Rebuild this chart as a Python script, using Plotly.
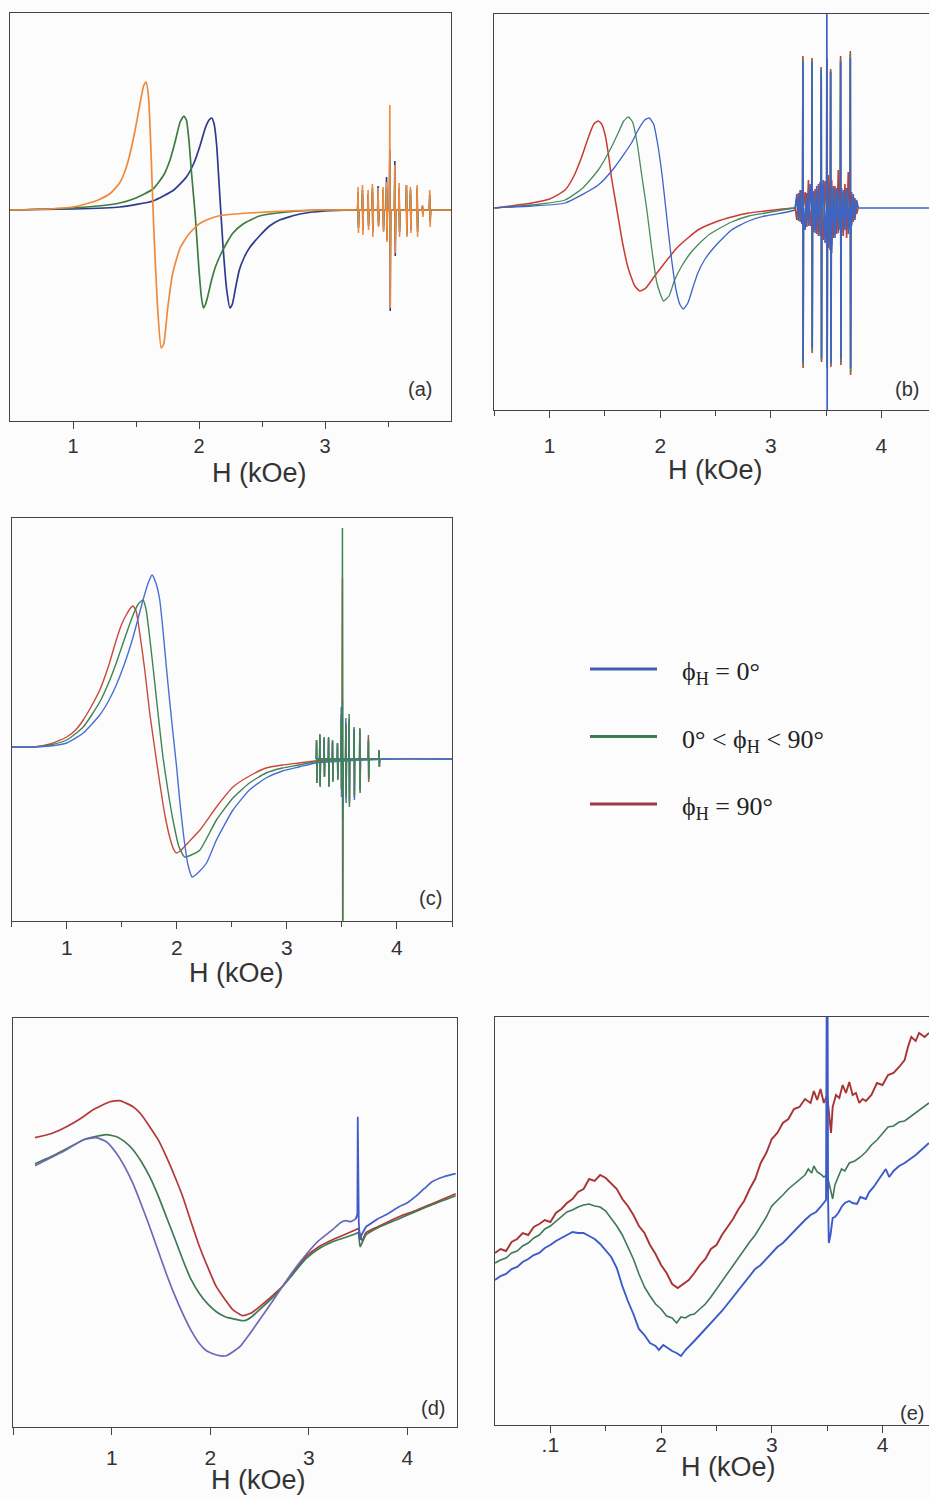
import plotly.graph_objects as go

W, HT = 929, 1500

# ---------------- Panel (a) ----------------
A_H_org = [0.5, 0.8, 1.0, 1.1, 1.2, 1.3, 1.37, 1.41, 1.44, 1.49, 1.53, 1.56, 1.58, 1.60, 1.62, 1.64, 1.67, 1.70, 1.72, 1.75, 1.79, 1.85, 1.92, 2.0, 2.1, 2.2, 2.4, 2.7, 3.0, 3.25, 3.9, 4.0]
A_Y_org = [0, 1, 3, 6, 10, 17, 27, 38, 50, 78, 105, 124, 128, 112, 55, -15, -95, -138, -134, -100, -64, -38, -24, -14, -8, -5, -3, -1, 0, 0, 0, 0]
A_H_grn = [0.5, 1.0, 1.2, 1.37, 1.5, 1.635, 1.72, 1.77, 1.81, 1.85, 1.88, 1.90, 1.92, 1.94, 1.97, 2.0, 2.02, 2.035, 2.05, 2.07, 2.10, 2.13, 2.17, 2.22, 2.27, 2.35, 2.48, 2.7, 3.0, 3.25, 3.9, 4.0]
A_Y_grn = [0, 2, 4, 7, 12, 21, 35, 50, 68, 88, 94, 90, 70, 38, -5, -60, -88, -98, -95, -86, -70, -57, -45, -33, -23, -14, -6, -2, 0, 0, 0, 0]
A_H_blu = [0.5, 1.0, 1.37, 1.635, 1.8, 1.90, 1.96, 2.01, 2.05, 2.08, 2.10, 2.12, 2.14, 2.16, 2.19, 2.22, 2.246, 2.265, 2.29, 2.32, 2.36, 2.40, 2.48, 2.56, 2.64, 2.8, 3.0, 3.25, 3.9, 4.0]
A_Y_blu = [0, 1, 3, 9, 20, 33, 47, 65, 82, 90, 92, 86, 65, 25, -35, -80, -98, -94, -78, -60, -47, -38, -26, -16, -10, -4, -1, 0, 0, 0]
A_SPK_H = [3.264, 3.299, 3.344, 3.378, 3.423, 3.463, 3.490, 3.516, 3.556, 3.590, 3.648, 3.680, 3.733, 3.775, 3.833]
A_SPK_UP_org = [23, 25, 20, 26, 22, 23, 28, 105, 45, 27, 25, 23, 25, 5, 20]
A_SPK_DN_org = [23, 25, 20, 27, 17, 22, 32, 98, 43, 27, 27, 23, 27, 7, 17]
A_SPK_UP_blu = [18, 20, 16, 22, 24, 20, 33, 60, 49, 22, 25, 20, 22, 4, 15]
A_SPK_DN_blu = [18, 20, 16, 22, 15, 20, 30, 101, 46, 22, 25, 20, 22, 5, 12]
A_SPK_UP_grn = [15, 16, 13, 18, 15, 16, 22, 50, 30, 18, 20, 16, 18, 3, 12]
A_SPK_DN_grn = [15, 16, 13, 18, 12, 16, 22, 45, 30, 18, 20, 16, 18, 3, 10]

# ---------------- Panel (b) ----------------
B_H_red = [0.5, 0.84, 1.0, 1.14, 1.22, 1.29, 1.33, 1.365, 1.40, 1.44, 1.47, 1.50, 1.53, 1.56, 1.606, 1.66, 1.71, 1.77, 1.816, 1.87, 1.95, 2.04, 2.15, 2.25, 2.34, 2.5, 2.645, 2.8, 2.95, 3.1, 3.22]
B_Y_red = [0, 5, 9, 18, 32, 51, 64, 75, 84, 87, 84, 74, 55, 30, 0, -35, -60, -78, -83, -80, -68, -55, -40, -30, -22, -14, -9, -5, -3, -1, 0]
B_H_grn = [0.5, 0.84, 1.14, 1.30, 1.44, 1.56, 1.62, 1.67, 1.713, 1.75, 1.79, 1.83, 1.877, 1.92, 1.97, 2.03, 2.08, 2.13, 2.19, 2.26, 2.34, 2.45, 2.645, 2.8, 2.95, 3.1, 3.22]
B_Y_grn = [0, 3, 8, 20, 38, 61, 75, 87, 91, 86, 66, 35, 0, -38, -75, -93, -88, -72, -59, -47, -37, -26, -14, -8, -5, -2, 0]
B_H_blu = [0.5, 0.84, 1.14, 1.44, 1.59, 1.74, 1.80, 1.86, 1.90, 1.94, 1.98, 2.02, 2.05, 2.09, 2.14, 2.18, 2.21, 2.25, 2.30, 2.34, 2.40, 2.49, 2.645, 2.8, 2.945, 3.15, 3.22]
B_Y_blu = [0, 2, 5, 23, 41, 65, 78, 88, 90, 84, 62, 30, 0, -40, -80, -97, -101, -95, -78, -65, -52, -39, -22, -13, -8, -4, -2]
B_H_tail = [3.79, 3.85, 4.0, 4.2, 4.45]
B_Y_tail = [0, 0, 0, 0, 0]
B_BAND_H = [3.22, 3.235, 3.25, 3.265, 3.28, 3.295, 3.31, 3.325, 3.34, 3.355, 3.37, 3.385, 3.40, 3.415, 3.43, 3.445, 3.46, 3.475, 3.49, 3.505, 3.52, 3.535, 3.55, 3.565, 3.58, 3.595, 3.61, 3.625, 3.64, 3.655, 3.67, 3.685, 3.70, 3.715, 3.73, 3.745, 3.76, 3.775, 3.79]
B_BAND_blu = [0, 14, -12, 18, -16, 20, -22, 15, -18, 24, -20, 17, -25, 22, -28, 26, -30, 28, -35, 30, -40, 25, -45, 22, -30, 20, -25, 24, -28, 18, -22, 20, -26, 16, -18, 14, -12, 8, 0]
B_BAND_red = [0, -12, 15, -14, 18, -20, 16, -19, 28, -18, 20, -24, 19, -26, 24, -28, 30, -32, 27, -38, 33, -42, 28, -30, 22, -26, 38, -22, 20, -28, 24, -30, 36, -20, 16, -14, 10, -6, 0]
B_BAND_grn = [0, 10, -13, 15, -12, 17, -18, 13, -15, 20, -17, 15, -20, 18, -24, 22, -25, 24, -30, 26, -34, 22, -38, 20, -26, 18, -22, 20, -24, 16, -20, 18, -22, 14, -16, 12, -10, 6, 0]
B_SPK_H = [3.291, 3.373, 3.457, 3.508, 3.542, 3.632, 3.72]
B_SPK_UP_blu = [146, 146, 138, 260, 136, 146, 150]
B_SPK_DN_blu = [154, 140, 150, 260, 155, 151, 160]
B_SPK_UP_red = [152, 150, 141, 150, 139, 152, 157]
B_SPK_DN_red = [160, 145, 154, 160, 159, 157, 167]
B_SPK_UP_grn = [149, 148, 140, 150, 137, 149, 154]
B_SPK_DN_grn = [157, 143, 152, 158, 157, 154, 164]

# ---------------- Panel (c) ----------------
C_H_red = [0.5, 0.7, 0.85, 1.0, 1.08, 1.15, 1.22, 1.30, 1.38, 1.45, 1.50, 1.54, 1.58, 1.603, 1.63, 1.663, 1.71, 1.754, 1.80, 1.845, 1.89, 1.935, 1.97, 1.996, 2.03, 2.10, 2.21, 2.36, 2.51, 2.66, 2.81, 2.96, 3.11, 3.25, 3.9, 4.5]
C_Y_red = [12, 12, 15, 22, 29, 39, 52, 69, 93, 119, 135, 144, 151, 153, 148, 126, 88, 46, 10, -24, -55, -78, -90, -94, -92, -84, -71, -48, -28, -17, -9, -6, -4, -2, 0, 0]
C_H_grn = [0.5, 0.7, 0.85, 1.0, 1.15, 1.30, 1.38, 1.45, 1.54, 1.603, 1.65, 1.693, 1.72, 1.75, 1.784, 1.83, 1.874, 1.92, 1.965, 2.02, 2.071, 2.13, 2.21, 2.36, 2.51, 2.66, 2.81, 2.96, 3.11, 3.25, 3.9, 4.5]
C_Y_grn = [12, 12, 14, 19, 32, 57, 76, 96, 125, 144, 155, 159, 150, 125, 92, 45, 2, -32, -61, -88, -98, -96, -91, -61, -39, -24, -14, -9, -6, -3, 0, 0]
C_H_blu = [0.5, 0.7, 0.85, 1.0, 1.15, 1.30, 1.38, 1.45, 1.54, 1.603, 1.693, 1.74, 1.775, 1.81, 1.845, 1.875, 1.905, 1.935, 1.965, 2.0, 2.026, 2.06, 2.10, 2.14, 2.20, 2.27, 2.36, 2.51, 2.66, 2.81, 2.96, 3.11, 3.265, 3.9, 4.5]
C_Y_blu = [12, 12, 13, 16, 26, 44, 58, 74, 100, 122, 159, 176, 184, 176, 159, 128, 92, 58, 26, -10, -41, -75, -105, -118, -113, -104, -81, -51, -31, -19, -12, -8, -4, 0, 0]
C_SPK_H = [3.271, 3.301, 3.340, 3.380, 3.416, 3.461, 3.495, 3.506, 3.537, 3.567, 3.612, 3.664, 3.742, 3.839]
C_SPK_UP_red = [19, 24, 21, 21, 18, 16, 40, 180, 36, 40, 30, 30, 24, 9]
C_SPK_DN_red = [24, 27, 18, 27, 22, 20, 30, 170, 40, 44, 38, 32, 23, 8]
C_SPK_UP_blu = [17, 22, 20, 20, 17, 15, 52, 60, 41, 38, 32, 28, 18, 8]
C_SPK_DN_blu = [22, 26, 17, 26, 21, 19, 38, 60, 44, 42, 41, 30, 19, 7]
C_SPK_UP_grn = [19, 25, 22, 22, 19, 16, 45, 231, 35, 45, 30, 31, 20, 9]
C_SPK_DN_grn = [24, 28, 18, 28, 23, 21, 30, 200, 38, 48, 36, 34, 20, 8]

# ---------------- Panel (d) ----------------
D_H_red = [0.22, 0.38, 0.54, 0.68, 0.81, 0.98, 1.08, 1.215, 1.30, 1.384, 1.47, 1.553, 1.64, 1.72, 1.80, 1.89, 1.98, 2.06, 2.15, 2.227, 2.33, 2.42, 2.50, 2.62, 2.73, 2.85, 2.97, 3.10, 3.24, 3.36, 3.476, 3.50, 3.54, 3.58, 3.70, 3.914, 4.08, 4.25, 4.49]
D_Y_red = [289, 293, 300, 308, 317, 325, 326, 320, 312, 300, 287, 270, 250, 230, 206, 180, 158, 140, 127, 117, 111, 114, 120, 130, 140, 155, 170, 180, 187, 192, 197, 198, 186, 194, 200, 210, 216, 223, 233]
D_H_grn = [0.22, 0.38, 0.54, 0.74, 0.945, 1.05, 1.13, 1.215, 1.30, 1.384, 1.47, 1.553, 1.64, 1.72, 1.80, 1.89, 1.98, 2.06, 2.15, 2.227, 2.345, 2.42, 2.50, 2.62, 2.73, 2.85, 2.97, 3.10, 3.24, 3.36, 3.476, 3.50, 3.52, 3.55, 3.58, 3.70, 3.914, 4.08, 4.25, 4.49]
D_Y_grn = [263, 270, 278, 288, 292, 290, 285, 277, 265, 250, 231, 210, 188, 167, 148, 133, 122, 115, 110, 108, 106, 110, 117, 128, 140, 154, 168, 178, 185, 189, 193, 194, 180, 186, 192, 199, 208, 215, 222, 231]
D_H_blu = [0.22, 0.38, 0.54, 0.71, 0.84, 0.945, 1.05, 1.13, 1.215, 1.30, 1.384, 1.47, 1.553, 1.64, 1.72, 1.80, 1.89, 1.96, 2.025, 2.09, 2.16, 2.23, 2.30, 2.40, 2.50, 2.62, 2.73, 2.85, 2.97, 3.10, 3.24, 3.32, 3.375, 3.42, 3.476, 3.492]
D_Y_blu = [261, 269, 277, 287, 289, 285, 273, 260, 243, 222, 200, 176, 153, 131, 113, 97, 83, 76, 73, 71, 71, 75, 80, 93, 107, 124, 140, 157, 172, 186, 197, 204, 206, 205, 208, 212]
D_H_bsp = [3.476, 3.492, 3.496, 3.499, 3.502, 3.506, 3.512, 3.52, 3.535, 3.58, 3.64, 3.70]
D_Y_bsp = [208, 212, 310, 225, 275, 205, 195, 187, 192, 200, 204, 208]
D_H_bl2 = [3.70, 3.80, 3.914, 4.0, 4.08, 4.17, 4.25, 4.37, 4.49]
D_Y_bl2 = [208, 213, 220, 224, 230, 238, 245, 250, 253]

# ---------------- Panel (e) ----------------
E_H_red = [0.50, 0.55, 0.60, 0.65, 0.70, 0.75, 0.80, 0.85, 0.90, 0.95, 1.00, 1.05, 1.10, 1.15, 1.20, 1.25, 1.30, 1.35, 1.40, 1.45, 1.50, 1.55, 1.60, 1.65, 1.70, 1.75, 1.80, 1.85, 1.90, 1.95, 2.00, 2.05, 2.10, 2.15, 2.20, 2.25, 2.30, 2.35, 2.40, 2.45, 2.50, 2.55, 2.60, 2.65, 2.70, 2.75, 2.80, 2.85, 2.90, 2.95, 3.00, 3.05, 3.10, 3.15, 3.20, 3.25, 3.30, 3.35, 3.38, 3.41, 3.44, 3.47, 3.50, 3.52, 3.535, 3.55, 3.58, 3.61, 3.64, 3.67, 3.70, 3.73, 3.76, 3.79, 3.82, 3.85, 3.90, 3.95, 4.00, 4.05, 4.10, 4.15, 4.20, 4.23, 4.26, 4.30, 4.33, 4.38, 4.42]
E_Y_red = [172, 176, 174, 183, 186, 192, 190, 198, 201, 205, 203, 212, 216, 222, 226, 233, 236, 246, 244, 250, 247, 241, 236, 226, 219, 210, 199, 192, 180, 171, 160, 152, 141, 137, 141, 145, 152, 160, 166, 176, 180, 190, 198, 206, 216, 224, 236, 246, 262, 272, 286, 292, 302, 306, 316, 318, 326, 322, 334, 325, 336, 322, 330, 305, 292, 318, 330, 327, 340, 332, 343, 330, 332, 322, 326, 324, 330, 342, 340, 350, 352, 358, 365, 378, 388, 384, 392, 388, 392]
E_H_grn = [0.50, 0.55, 0.60, 0.65, 0.70, 0.75, 0.80, 0.85, 0.90, 0.95, 1.00, 1.05, 1.10, 1.15, 1.20, 1.25, 1.30, 1.35, 1.40, 1.45, 1.50, 1.55, 1.60, 1.65, 1.70, 1.75, 1.80, 1.85, 1.90, 1.95, 2.00, 2.05, 2.10, 2.14, 2.18, 2.22, 2.26, 2.30, 2.35, 2.40, 2.45, 2.50, 2.55, 2.60, 2.65, 2.70, 2.75, 2.80, 2.85, 2.90, 2.95, 3.00, 3.05, 3.10, 3.15, 3.20, 3.25, 3.30, 3.33, 3.36, 3.38, 3.41, 3.44, 3.47, 3.50, 3.53, 3.55, 3.57, 3.60, 3.63, 3.66, 3.70, 3.75, 3.80, 3.85, 3.90, 3.95, 4.00, 4.05, 4.10, 4.15, 4.20, 4.25, 4.30, 4.35, 4.42]
E_Y_grn = [162, 165, 167, 172, 174, 179, 182, 187, 190, 196, 199, 204, 208, 213, 215, 218, 220, 221, 219, 218, 214, 207, 199, 190, 178, 166, 151, 138, 129, 121, 116, 109, 107, 102, 108, 107, 110, 111, 116, 121, 128, 136, 144, 152, 160, 168, 175, 183, 190, 199, 208, 219, 224, 230, 236, 241, 246, 250, 256, 252, 259, 253, 251, 248, 250, 236, 226, 240, 248, 256, 254, 262, 264, 268, 273, 280, 285, 292, 298, 299, 303, 304, 308, 312, 316, 322]
E_H_blu = [0.50, 0.55, 0.60, 0.65, 0.70, 0.75, 0.80, 0.85, 0.90, 0.95, 1.00, 1.05, 1.10, 1.15, 1.20, 1.25, 1.30, 1.35, 1.40, 1.45, 1.50, 1.55, 1.60, 1.65, 1.70, 1.75, 1.80, 1.85, 1.90, 1.95, 1.98, 2.02, 2.06, 2.10, 2.14, 2.18, 2.22, 2.26, 2.30, 2.35, 2.40, 2.45, 2.50, 2.55, 2.60, 2.65, 2.70, 2.75, 2.80, 2.85, 2.90, 2.95, 3.00, 3.05, 3.10, 3.15, 3.20, 3.25, 3.30, 3.35, 3.40, 3.44, 3.47, 3.49, 3.496, 3.500, 3.504, 3.508, 3.515, 3.53, 3.55, 3.57, 3.60, 3.63, 3.66, 3.70, 3.73, 3.77, 3.80, 3.85, 3.88, 3.92, 3.96, 4.00, 4.03, 4.06, 4.10, 4.15, 4.20, 4.25, 4.30, 4.35, 4.42]
E_Y_blu = [145, 149, 151, 156, 158, 163, 166, 170, 172, 177, 180, 184, 187, 190, 193, 192, 192, 189, 186, 181, 175, 168, 157, 139, 124, 111, 96, 90, 82, 79, 75, 80, 77, 74, 72, 69, 75, 79, 84, 90, 96, 101, 107, 114, 121, 128, 134, 141, 149, 156, 160, 166, 172, 178, 182, 188, 194, 199, 205, 210, 213, 218, 222, 225, 420, 235, 420, 230, 182, 190, 207, 208, 212, 218, 222, 224, 222, 221, 228, 226, 233, 238, 245, 251, 256, 248, 254, 259, 262, 266, 270, 275, 282]

# ---------------- Legend ----------------
LEG_TEXT = ["ϕ<sub>H</sub> = 0°", "0° < ϕ<sub>H</sub> < 90°", "ϕ<sub>H</sub> = 90°"]
LEG_COL = ["#3f5fb5", "#3b7d52", "#9a3a4e"]

# ---------------- helpers ----------------
def spikes(centers, ups, dns, w=0.005, band_h=None, band_y=None):
    pts = []
    if band_h is not None:
        pts += list(zip(band_h, band_y))
    for c, u, d in zip(centers, ups, dns):
        pts += [(c - w, 0), (c - w / 3, u), (c + w / 3, -d), (c + w, 0)]
    pts.sort(key=lambda p: p[0])
    return [p[0] for p in pts], [p[1] for p in pts]

fig = go.Figure()

def px2x(px):
    return px / W

def py2y(py):
    return 1 - py / HT

def add(ax, x, y, color, width=1.5, spline=True):
    fig.add_trace(go.Scatter(
        x=x, y=y, mode="lines", xaxis="x" + ax, yaxis="y" + ax,
        line=dict(color=color, width=width, shape="spline" if spline else "linear", smoothing=0.5),
        showlegend=False, hoverinfo="skip"))

# panel a
a_or, a_gr, a_bl = "#ef8a3c", "#3d7c3e", "#2e3a8c"
add("", A_H_blu, A_Y_blu, a_bl, 1.7)
add("", A_H_grn, A_Y_grn, a_gr, 1.7)
add("", A_H_org, A_Y_org, a_or, 1.7)
sx, sy = spikes(A_SPK_H, A_SPK_UP_blu, A_SPK_DN_blu)
add("", sx, sy, a_bl, 1.6, False)
sx, sy = spikes(A_SPK_H, A_SPK_UP_grn, A_SPK_DN_grn)
add("", sx, sy, a_gr, 1.6, False)
sx, sy = spikes(A_SPK_H, A_SPK_UP_org, A_SPK_DN_org)
add("", sx, sy, a_or, 1.6, False)

# panel b
b_rd, b_gr, b_bl = "#c63c2f", "#4a8a5c", "#3d63c6"
add("2", B_H_red, B_Y_red, b_rd, 1.5)
add("2", B_H_grn, B_Y_grn, b_gr, 1.3)
add("2", B_H_blu, B_Y_blu, b_bl, 1.3)
add("2", B_H_tail, B_Y_tail, b_bl, 1.5, False)
sx, sy = spikes(B_SPK_H, B_SPK_UP_red, B_SPK_DN_red, 0.004, B_BAND_H, B_BAND_red)
add("2", sx, sy, b_rd, 1.6, False)
sx, sy = spikes(B_SPK_H, B_SPK_UP_grn, B_SPK_DN_grn, 0.004, B_BAND_H, B_BAND_grn)
add("2", sx, sy, b_gr, 1.6, False)
sx, sy = spikes(B_SPK_H, B_SPK_UP_blu, B_SPK_DN_blu, 0.004, B_BAND_H, B_BAND_blu)
add("2", sx, sy, b_bl, 1.6, False)

# panel c
c_rd, c_gr, c_bl = "#c74a3a", "#3e8450", "#4a6fd2"
add("3", C_H_red, C_Y_red, c_rd, 1.4)
add("3", C_H_grn, C_Y_grn, c_gr, 1.4)
add("3", C_H_blu, C_Y_blu, c_bl, 1.4)
sx, sy = spikes(C_SPK_H, C_SPK_UP_red, C_SPK_DN_red, 0.004)
add("3", sx, sy, c_rd, 1.5, False)
sx, sy = spikes(C_SPK_H, C_SPK_UP_blu, C_SPK_DN_blu, 0.004)
add("3", sx, sy, c_bl, 1.5, False)
sx, sy = spikes(C_SPK_H, C_SPK_UP_grn, C_SPK_DN_grn, 0.004)
add("3", sx, sy, c_gr, 1.5, False)

# panel d
d_rd, d_gr, d_bl = "#b3383a", "#3e7a52", "#6f68b5"
add("4", D_H_red, D_Y_red, d_rd, 1.7)
add("4", D_H_grn, D_Y_grn, d_gr, 1.7)
add("4", D_H_blu, D_Y_blu, d_bl, 1.7)
add("4", D_H_bl2, D_Y_bl2, "#4a62c4", 1.7)
add("4", D_H_bsp, D_Y_bsp, "#3f5cc8", 1.8, False)

# panel e
e_rd, e_gr, e_bl = "#a83434", "#3e7a55", "#3a5bc8"
add("5", E_H_red, E_Y_red, e_rd, 1.9, False)
add("5", E_H_grn, E_Y_grn, e_gr, 1.6, False)
add("5", E_H_blu, E_Y_blu, e_bl, 1.9, False)

AXC = "#444444"
TF = dict(family="Liberation Sans, Arial, sans-serif", size=21, color="#333333")

def xax(dom, rng, tv, tt, minor, standoff, mirror=True, fsize=21):
    d = dict(domain=dom, range=rng, showgrid=False, zeroline=False, showline=True,
             linecolor=AXC, linewidth=1, mirror=mirror, ticks="outside", ticklen=7,
             tickwidth=1, tickcolor=AXC, tickmode="array", tickvals=tv, ticktext=tt,
             tickfont=dict(TF, size=fsize), ticklabelstandoff=standoff, fixedrange=True)
    if minor:
        d["minor"] = dict(tickmode="array", tickvals=minor, ticks="outside", ticklen=5,
                          tickwidth=1, tickcolor=AXC)
    return d

def yax(dom, rng, anchor, mirror=True):
    return dict(domain=dom, range=rng, showgrid=False, zeroline=False, showline=True,
                linecolor=AXC, linewidth=1, mirror=mirror, showticklabels=False,
                ticks="", anchor=anchor, fixedrange=True)

layout = dict(
    width=W, height=HT, margin=dict(l=0, r=0, t=0, b=0),
    paper_bgcolor="#fcfcfd", plot_bgcolor="#fcfcfd", showlegend=False,
    xaxis=xax([px2x(10), px2x(451)], [0.5, 4.0], [1, 2, 3], ["1", "2", "3"], [1.5, 2.5, 3.5], 0, True, 20),
    yaxis=yax([py2y(421), py2y(13)], [-211, 197], "x"),
    xaxis2=xax([px2x(494.3), 1.0], [0.5, 4.43], [1, 2, 3, 4], ["1", "2", "3", "4"], [0.5, 1.5, 2.5, 3.5], 10),
    yaxis2=yax([py2y(410), py2y(14)], [-202, 194], "x2", False),
    xaxis3=xax([px2x(11.7), px2x(452)], [0.5, 4.5], [1, 2, 3, 4], ["1", "2", "3", "4"], [0.5, 1.5, 2.5, 3.5, 4.5], 1),
    yaxis3=yax([py2y(920.7), py2y(518)], [-161.7, 241], "x3"),
    xaxis4=xax([px2x(13.3), px2x(456.7)], [0, 4.5], [1, 2, 3, 4], ["1", "2", "3", "4"], [0.0], 5),
    yaxis4=yax([py2y(1426.7), py2y(1018)], [0, 408.7], "x4"),
    xaxis5=xax([px2x(495), 1.0], [0.5, 4.42], [1, 2, 3, 4], [".1", "2", "3", "4"], [1.5, 2.5, 3.5], -6),
    yaxis5=yax([py2y(1425), py2y(1017)], [0, 408], "x5", False),
)
for k in ["xaxis", "xaxis2", "xaxis3", "xaxis4", "xaxis5"]:
    n = k[5:]
    layout[k]["anchor"] = "y" + n
layout["xaxis4"]["minor"]["ticklen"] = 7
fig.update_layout(**layout)

ann = []
for (px, py) in [(259, 473), (715, 470), (236, 973), (258, 1480), (728, 1467)]:
    ann.append(dict(x=px2x(px), y=py2y(py), xref="paper", yref="paper", text="H (kOe)",
                    showarrow=False, xanchor="center", yanchor="middle",
                    font=dict(family="Liberation Sans, Arial, sans-serif", size=27, color="#333333")))
for (txt, px, py) in [("(a)", 420, 389), ("(b)", 907, 389), ("(c)", 430, 898), ("(d)", 433, 1408), ("(e)", 912, 1413)]:
    ann.append(dict(x=px2x(px), y=py2y(py), xref="paper", yref="paper", text=txt,
                    showarrow=False, xanchor="center", yanchor="middle",
                    font=dict(family="Liberation Sans, Arial, sans-serif", size=20, color="#333333")))
shapes = []
for i, (t, c) in enumerate(zip(LEG_TEXT, LEG_COL)):
    py = 669 + i * 67.5
    shapes.append(dict(type="line", xref="paper", yref="paper", x0=px2x(590), x1=px2x(657),
                       y0=py2y(py), y1=py2y(py), line=dict(color=c, width=3)))
    ann.append(dict(x=px2x(680), y=py2y(py + 4), xref="paper", yref="paper", text=t,
                    showarrow=False, xanchor="left", yanchor="middle",
                    font=dict(family="Liberation Serif, Times New Roman, serif", size=26, color="#222222")))
fig.update_layout(annotations=ann, shapes=shapes)

fig.write_html("out.html", config={"displayModeBar": False},
               post_script="document.body.style.margin='0px';document.body.style.overflow='hidden';")
